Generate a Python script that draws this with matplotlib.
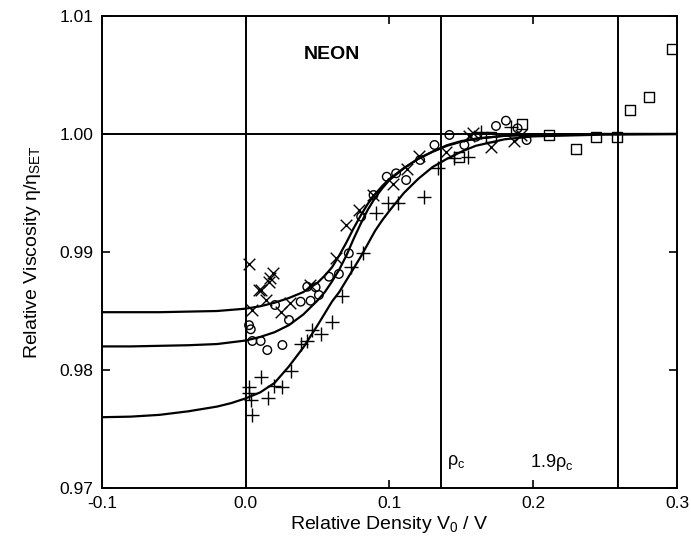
import matplotlib
matplotlib.use("Agg")
import matplotlib.pyplot as plt

plt.rcParams['font.family'] = ['Liberation Sans', 'DejaVu Sans']
plt.rcParams['mathtext.fontset'] = 'custom'
plt.rcParams['mathtext.rm'] = 'Liberation Sans'
plt.rcParams['mathtext.it'] = 'Liberation Sans'

# ---- data ----
cross_x = [0.0023, 0.019, 0.0167, 0.0104, 0.0144, 0.0046, 0.0248, 0.0306, 0.0093, 0.0162,
           0.045, 0.063, 0.070, 0.0787, 0.0884, 0.1023, 0.112, 0.1208, 0.139, 0.1556,
           0.158, 0.1706, 0.1868, 0.1914]
cross_y = [0.9890, 0.9882, 0.9878, 0.9868, 0.9859, 0.9851, 0.9849, 0.9857, 0.9868, 0.9875,
           0.9872, 0.9895, 0.9923, 0.9936, 0.9948, 0.9958, 0.9970, 0.9981, 0.9985, 0.9998,
           1.0001, 0.9989, 0.9994, 0.9999]

circ_x = [0.0023, 0.0035, 0.0046, 0.0104, 0.0150, 0.0255, 0.0204, 0.0301, 0.0382, 0.0428,
          0.0451, 0.0509, 0.0486, 0.0579, 0.0648, 0.0717, 0.0803, 0.0889, 0.0981, 0.1046,
          0.1116, 0.1213, 0.1313, 0.1417, 0.1521, 0.1602, 0.1741, 0.181, 0.1891, 0.1954]
circ_y = [0.9838, 0.98345, 0.98246, 0.98246, 0.98169, 0.98212, 0.98551, 0.98424, 0.98579, 0.98706,
          0.98587, 0.98636, 0.98701, 0.98791, 0.98814, 0.98989, 0.9930, 0.99483, 0.99638, 0.99667,
          0.9961, 0.9978, 0.99907, 0.99992, 0.99907, 0.99977, 1.00068, 1.00113, 1.00048, 0.99949]

plus_x = [0.0023, 0.0023, 0.0035, 0.0046, 0.0104, 0.0157, 0.0197, 0.0255, 0.0313, 0.0382,
          0.0428, 0.0458, 0.0521, 0.0597, 0.0667, 0.0734, 0.0815, 0.0907, 0.0988, 0.1058,
          0.1238, 0.1335, 0.1451, 0.1544, 0.1637, 0.1845]
plus_y = [0.97859, 0.97808, 0.97746, 0.97619, 0.97938, 0.9776, 0.97864, 0.97859, 0.97994, 0.9822,
          0.98246, 0.98339, 0.98305, 0.98409, 0.98627, 0.98876, 0.98994, 0.99328, 0.99413, 0.99413,
          0.99464, 0.99709, 0.99794, 0.99808, 1.0002, 1.0006]

sq_x = [0.1486, 0.1706, 0.1921, 0.2111, 0.2296, 0.2435, 0.2585, 0.2671, 0.2806, 0.2963]
sq_y = [0.99808, 0.99977, 1.00085, 0.99992, 0.9987, 0.99972, 0.99972, 1.00203, 1.00316, 1.00718]

curve_x = [-0.1, -0.08, -0.06, -0.04, -0.02, -0.01, 0.0, 0.01, 0.02, 0.03, 0.04, 0.05,
           0.055, 0.06, 0.065, 0.07, 0.075, 0.08, 0.085, 0.09, 0.095, 0.10, 0.11, 0.12,
           0.13, 0.14, 0.15, 0.16, 0.18, 0.20, 0.25, 0.30]
curve_a = [0.9849, 0.9849, 0.9849, 0.98495, 0.9850, 0.9851, 0.9852, 0.9854, 0.9857, 0.9861, 0.9866, 0.9874,
           0.9880, 0.9887, 0.9897, 0.9908, 0.9920, 0.9931, 0.9941, 0.9949, 0.9956, 0.9962, 0.9971, 0.9979,
           0.9985, 0.99905, 0.9994, 0.9996, 0.99985, 0.99995, 1.0, 1.0]
curve_b = [0.9820, 0.9820, 0.98205, 0.9821, 0.9822, 0.98235, 0.9825, 0.9828, 0.9832, 0.9838, 0.9847, 0.9859,
           0.9866, 0.9875, 0.9885, 0.9897, 0.9911, 0.9924, 0.9936, 0.9946, 0.9954, 0.9961, 0.9971, 0.9979,
           0.9985, 0.9990, 0.99935, 0.9996, 0.99985, 0.99995, 1.0, 1.0]
curve_c = [0.9760, 0.97605, 0.9762, 0.9765, 0.9769, 0.9772, 0.9776, 0.9781, 0.9789, 0.9803, 0.9819, 0.9838,
           0.9848, 0.9858, 0.9866, 0.9876, 0.9886, 0.9896, 0.9907, 0.9918, 0.9927, 0.9935, 0.9950, 0.9962,
           0.9972, 0.9979, 0.9985, 0.9990, 0.99955, 0.9998, 0.99995, 1.0]

rho_c = 0.136
rho_19 = 0.259

x_ticks = [-0.1, 0.0, 0.1, 0.2, 0.3]
x_ticklabels = ['-0.1', '0.0', '0.1', '0.2', '0.3']
y_ticks = [0.97, 0.98, 0.99, 1.00, 1.01]
y_ticklabels = ['0.97', '0.98', '0.99', '1.00', '1.01']

# ---- figure ----
fig = plt.figure(figsize=(6.91, 5.44), dpi=100)
ax = fig.add_axes([0.1476, 0.1029, 0.8321, 0.8677])

lc = 'black'
ax.axvline(0.0, color=lc, lw=1.4)
ax.axvline(rho_c, color=lc, lw=1.4)
ax.axvline(rho_19, color=lc, lw=1.4)
ax.axhline(1.0, color=lc, lw=1.4)

for cy in (curve_a, curve_b, curve_c):
    ax.plot(curve_x, cy, color=lc, lw=1.6, solid_joinstyle='round')

ax.scatter(cross_x, cross_y, marker='x', s=70, color=lc, linewidths=1.0, zorder=3)
ax.scatter(circ_x, circ_y, marker='o', s=38, facecolors='none', edgecolors=lc, linewidths=1.0, zorder=3)
ax.scatter(plus_x, plus_y, marker='+', s=95, color=lc, linewidths=1.0, zorder=3)
ax.scatter(sq_x, sq_y, marker='s', s=55, facecolors='none', edgecolors=lc, linewidths=1.0, zorder=3)

ax.set_xlim(-0.1, 0.3)
ax.set_ylim(0.97, 1.01)
ax.set_xticks(x_ticks)
ax.set_xticklabels(x_ticklabels)
ax.set_yticks(y_ticks)
ax.set_yticklabels(y_ticklabels)
ax.tick_params(direction='in', top=True, right=True, length=6, width=1.2, labelsize=12.5, pad=6)
for s in ax.spines.values():
    s.set_linewidth(1.4)

ax.text(0.06, 1.0067, 'NEON', fontsize=14, fontweight='bold', ha='center', va='center')
ax.text(rho_c + 0.004, 0.9722, r'$\rho_c$', fontsize=13, ha='left', va='center')
ax.text(0.2125, 0.9722, r'1.9$\rho_c$', fontsize=13, ha='center', va='center')

ax.set_xlabel(r'Relative Density V$_0$ / V', fontsize=14, labelpad=2)
ax.set_ylabel(r'Relative Viscosity $\eta/\eta_{SET}$', fontsize=14, labelpad=12)

fig.savefig('out.png', dpi=100)
